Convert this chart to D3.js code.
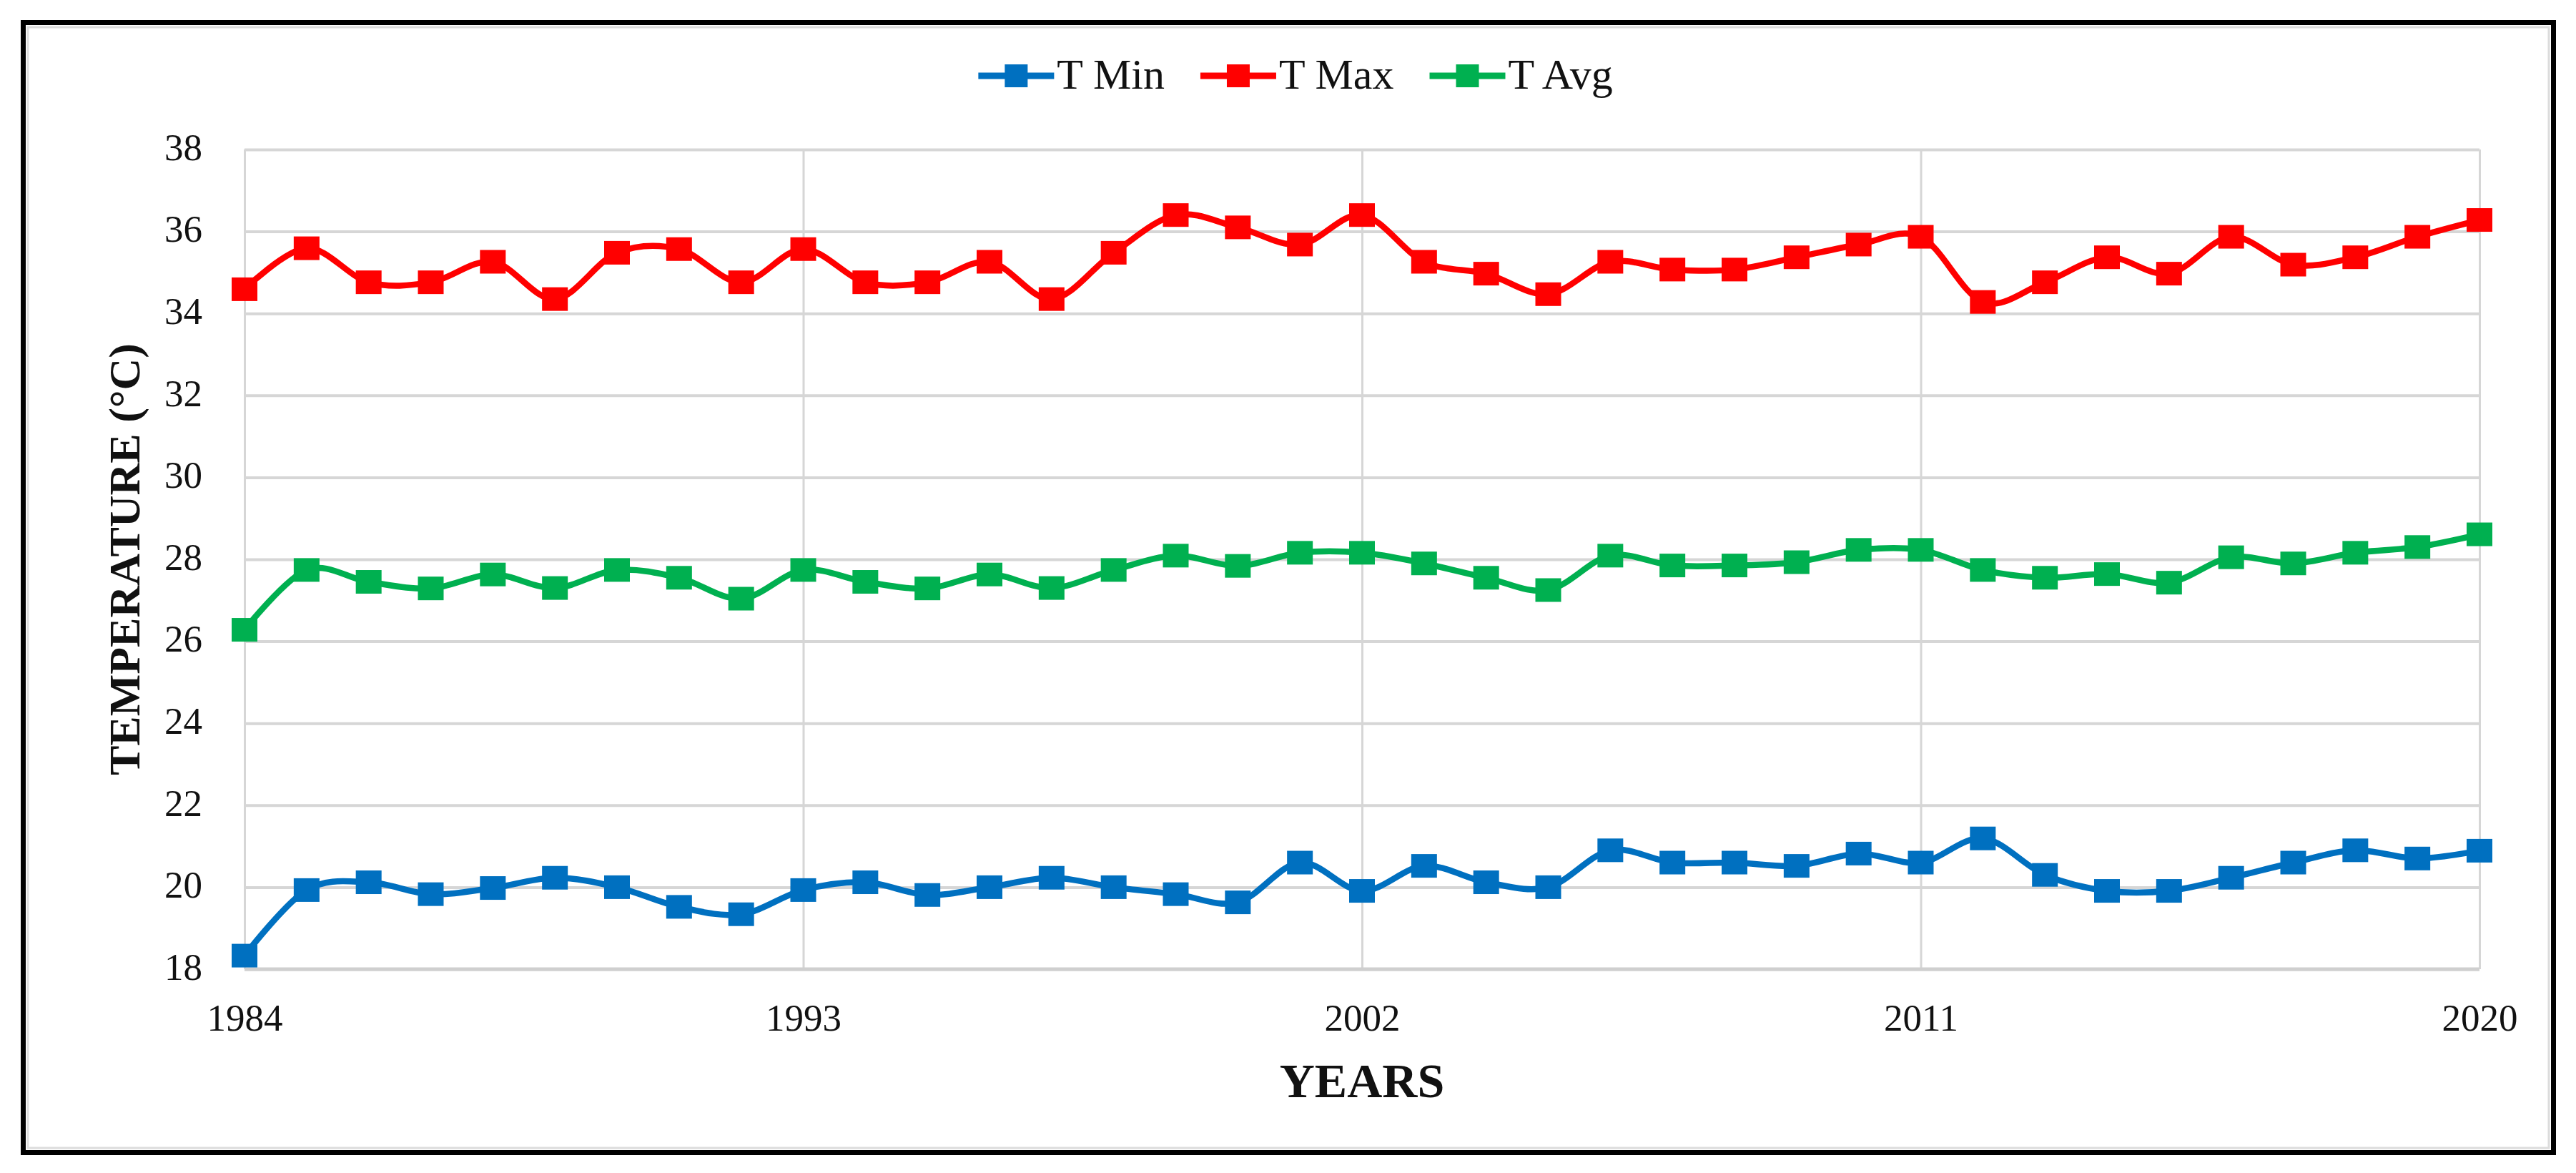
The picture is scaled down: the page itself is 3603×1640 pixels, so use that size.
<!DOCTYPE html>
<html>
<head>
<meta charset="utf-8">
<script src="https://cdn.jsdelivr.net/npm/d3@7"></script>
<style>
  body { margin: 0; background: #fff; }
  svg { display: block; font-family: "Liberation Serif", serif; }
</style>
</head>
<body>
<div id="chart"></div>
<script>
const W = 3603, H = 1640;

// données
const YEARS = d3.range(1984, 2021);
const T_MIN = [18.33, 19.93, 20.12, 19.83, 19.98, 20.23, 20.0, 19.52, 19.34, 19.93,
               20.12, 19.81, 20.0, 20.23, 20.0, 19.83, 19.63, 20.6, 19.91, 20.52,
               20.12, 20.0, 20.9, 20.6, 20.6, 20.52, 20.82, 20.6, 21.19, 20.3,
               19.91, 19.91, 20.23, 20.6, 20.9, 20.7, 20.89];
const T_MAX = [34.59, 35.59, 34.76, 34.76, 35.26, 34.35, 35.48, 35.57, 34.76, 35.57,
               34.76, 34.76, 35.26, 34.35, 35.48, 36.4, 36.1, 35.68, 36.4, 35.26,
               34.97, 34.47, 35.26, 35.07, 35.07, 35.37, 35.68, 35.87, 34.28, 34.76,
               35.37, 34.97, 35.87, 35.19, 35.37, 35.87, 36.28];
const T_AVG = [26.28, 27.74, 27.45, 27.29, 27.63, 27.3, 27.74, 27.55, 27.04, 27.74,
               27.45, 27.29, 27.63, 27.3, 27.74, 28.09, 27.84, 28.16, 28.16, 27.9,
               27.55, 27.25, 28.09, 27.85, 27.85, 27.93, 28.23, 28.23, 27.74, 27.55,
               27.64, 27.43, 28.05, 27.9, 28.16, 28.3, 28.61];
const SERIES_NAMES  = ['T Min', 'T Max', 'T Avg'];
const SERIES_COLORS = ['#0070C0', '#FF0000', '#00B050'];
const X_TICKS = [1984, 1993, 2002, 2011, 2020];
const Y_TICKS = d3.range(18, 39, 2);

const margin = { left: 342, right: W - 3468, top: 209, bottom: H - 1355 };
const w = W - margin.left - margin.right;
const h = H - margin.top - margin.bottom;

const svg = d3.select('#chart').append('svg')
  .attr('width', W).attr('height', H);

// cadre
svg.append('rect')
  .attr('x', 39).attr('y', 38).attr('width', 3526).attr('height', 1567)
  .attr('fill', 'none').attr('stroke', '#dcdcdc').attr('stroke-width', 3);
svg.append('rect')
  .attr('x', 32.5).attr('y', 31.5).attr('width', 3539).attr('height', 1580)
  .attr('fill', 'none').attr('stroke', '#000').attr('stroke-width', 7);

const g = svg.append('g').attr('transform', `translate(${margin.left},${margin.top})`);

const x = d3.scaleLinear().domain([1984, 2020]).range([0, w]);
const y = d3.scaleLinear().domain([18, 38]).range([h, 0]);

// grilles
g.append('g')
  .call(d3.axisLeft(y).tickValues(Y_TICKS).tickSize(-w).tickFormat(''))
  .call(a => a.select('.domain').remove())
  .call(a => a.selectAll('line').attr('stroke', '#d6d6d6').attr('stroke-width', 4));
g.append('g')
  .attr('transform', `translate(0,${h})`)
  .call(d3.axisBottom(x).tickValues(X_TICKS).tickSize(-h).tickFormat(''))
  .call(a => a.select('.domain').remove())
  .call(a => a.selectAll('line').attr('stroke', '#d6d6d6').attr('stroke-width', 3));
g.append('line')
  .attr('x1', 0).attr('x2', w).attr('y1', h).attr('y2', h)
  .attr('stroke', '#cfcfcf').attr('stroke-width', 5);

// étiquettes des axes
g.append('g')
  .call(d3.axisLeft(y).tickValues(Y_TICKS).tickSize(0).tickPadding(59))
  .call(a => a.select('.domain').remove())
  .call(a => a.selectAll('text')
    .attr('font-family', 'Liberation Serif').attr('font-size', 53).attr('fill', '#111')
    .attr('dy', '0.27em'));
g.append('g')
  .attr('transform', `translate(0,${h})`)
  .call(d3.axisBottom(x).tickValues(X_TICKS).tickSize(0).tickPadding(48).tickFormat(d3.format('d')))
  .call(a => a.select('.domain').remove())
  .call(a => a.selectAll('text')
    .attr('font-family', 'Liberation Serif').attr('font-size', 53).attr('fill', '#111'));

svg.append('text')
  .attr('transform', `translate(195,${margin.top + h / 2}) rotate(-90)`)
  .attr('text-anchor', 'middle')
  .attr('font-size', 62).attr('font-weight', 'bold').attr('fill', '#111')
  .text('TEMPERATURE (°C)');
svg.append('text')
  .attr('x', margin.left + w / 2).attr('y', 1534)
  .attr('text-anchor', 'middle')
  .attr('font-size', 68).attr('font-weight', 'bold').attr('fill', '#111')
  .text('YEARS');

// séries
const allSeries = [T_MIN, T_MAX, T_AVG];
const line = d3.line()
  .x((d, i) => x(YEARS[i]))
  .y(d => y(d))
  .curve(d3.curveCardinal.tension(0));

const MW = 36, MH = 33;
allSeries.forEach((vals, s) => {
  const sg = g.append('g');
  sg.append('path')
    .datum(vals)
    .attr('d', line)
    .attr('fill', 'none')
    .attr('stroke', SERIES_COLORS[s])
    .attr('stroke-width', 8.5)
    .attr('stroke-linejoin', 'round');
  sg.selectAll('rect')
    .data(vals)
    .join('rect')
    .attr('x', (d, i) => x(YEARS[i]) - MW / 2)
    .attr('y', d => y(d) - MH / 2)
    .attr('width', MW).attr('height', MH)
    .attr('fill', SERIES_COLORS[s]);
});

// légende
const legend = svg.append('g').attr('transform', 'translate(0,106)');
const items = legend.selectAll('g')
  .data(SERIES_NAMES)
  .join('g');
items.append('line')
  .attr('x1', 0).attr('x2', 106)
  .attr('stroke', (d, i) => SERIES_COLORS[i]).attr('stroke-width', 9);
items.append('rect')
  .attr('x', 53 - 16).attr('y', -16).attr('width', 32).attr('height', 32)
  .attr('fill', (d, i) => SERIES_COLORS[i]);
items.append('text')
  .attr('x', 110).attr('y', 18)
  .attr('font-size', 60).attr('fill', '#111')
  .text(d => d);

let offset = 0;
const widths = [];
items.each(function() {
  const tw = d3.select(this).select('text').node().getComputedTextLength();
  widths.push(110 + tw);
});
const gap = 50;
const total = d3.sum(widths) + gap * (widths.length - 1);
offset = 1812 - total / 2;
items.attr('transform', (d, i) => {
  const tx = offset;
  offset += widths[i] + gap;
  return `translate(${tx},0)`;
});
</script>
</body>
</html>
